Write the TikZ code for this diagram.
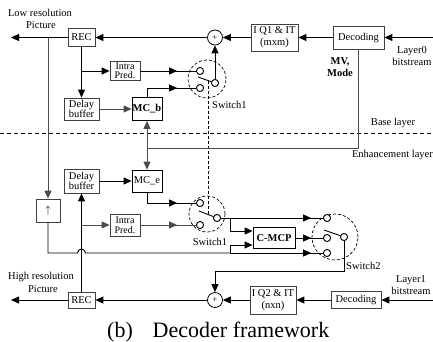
\documentclass[tikz,border=0pt]{standalone}
\usepackage{fontspec}
\setmainfont{Liberation Serif}
\usetikzlibrary{arrows.meta,decorations.markings,calc}
\begin{document}
\begin{tikzpicture}[x=1pt,y=-1pt,
  fs/.style={font=\fontsize{10.5}{11}\selectfont},
  box/.style={draw=black!75, line width=0.8pt, inner sep=0pt, align=center, fs},
  bbox/.style={box, draw=black, font=\fontsize{10.5}{11}\selectfont\bfseries},
  lab/.style={inner sep=0pt, align=center, fs},
  wire/.style={line width=0.9pt, draw=black},
  gwire/.style={line width=1pt, draw=black!70},
  arr/.style={-{Triangle[length=8pt,width=7pt]}},
  arrowat/.style={postaction={decorate}, decoration={markings, mark=at position #1 with {\arrow{Triangle[length=8pt,width=7pt]}}}},
  contact/.style={circle, draw=black, line width=0.8pt, fill=white, inner sep=0pt, minimum size=7pt},
  swring/.style={circle, draw=black, dash pattern=on 3pt off 2pt, line width=0.7pt, inner sep=0pt},
  adder/.style={circle, draw=black, line width=0.8pt, fill=white, inner sep=0pt, minimum size=15pt, font=\fontsize{9}{9}\selectfont},
]
\useasboundingbox (0,0) rectangle (433,341);

% ---------- base layer ----------
\node[box, minimum width=51pt, minimum height=23pt] (dec1) at (358.5,37.5) {Decoding};
\node[box, minimum width=47pt, minimum height=27pt, font=\fontsize{10.5}{12}\selectfont] (iq1) at (274.5,37.5) {I Q1 \& IT\\(mxm)};
\node[adder] (sum1) at (215,37.5) {+};
\node[box, minimum width=27pt, minimum height=18pt] (rec1) at (81.5,37.5) {REC};
\coordinate (in0) at (433,37.5);
\coordinate (outL) at (11,37.5);
\node[lab] (tlow) at (40,13) {Low resolution};
\node[lab] (tlowp) at (41,25) {Picture};
\node[lab, font=\fontsize{10.5}{12}\selectfont] (tl0) at (412,56) {Layer0\\bitstream};
\node[lab, font=\fontsize{10.5}{12}\selectfont\bfseries] (tmv) at (340,67) {MV,\\Mode};

\node[box, minimum width=35pt, minimum height=22pt, font=\fontsize{10.5}{10.5}\selectfont] (dlb1) at (81.5,109) {Delay\\buffer};
\node[bbox, minimum width=30pt, minimum height=23pt] (mcb) at (147,109) {MC\_b};
\node[box, minimum width=30pt, minimum height=19pt, font=\fontsize{10}{9.5}\selectfont] (ip1) at (125,71) {Intra\\Pred.};

\node[swring, minimum size=38pt] (sw1u) at (207,79) {};
\node[contact] (u1t) at (200,71) {};
\node[contact] (u1b) at (200,88) {};
\node[contact] (u1p) at (215,83) {};
\coordinate (u1lev) at (198,77);
\node[lab, anchor=west] (tsw1u) at (212,105) {Switch1};

\coordinate (v48) at (48,37.5);
\coordinate (br1) at (81.5,71);
\coordinate (jn) at (147,148);

\draw[wire, arr] (in0) -- (dec1);
\draw[wire, arr] (dec1) -- (iq1);
\draw[wire, arr] (iq1) -- (sum1);
\draw[wire, arr] (sum1) -- (rec1);
\draw[wire, arr] (rec1) -- (outL);
\draw[wire, arr] (rec1) -- (dlb1);
\draw[wire, arr] (br1) -- (ip1);
\draw[wire, arrowat=-19pt] (ip1) -- (u1t);
\draw[gwire, arr] (dlb1) -- (mcb);
\draw[wire, arrowat=-19pt] (mcb.north) |- (u1b);
\draw[wire, arr] (u1p) -- (sum1);
\draw[wire] (u1p) -- (u1lev);

% ---------- separator ----------
\coordinate (sepL) at (0,133);
\coordinate (sepR) at (433,133);
\draw[line width=0.8pt, dash pattern=on 4pt off 3pt] (sepL) -- (sepR);
\node[lab] (tbase) at (393,123) {Base layer};
\node[lab, anchor=east] (tenh) at (433,155) {Enhancement layer};

% ---------- enhancement layer ----------
\node[box, minimum width=35pt, minimum height=24pt, font=\fontsize{10.5}{10.5}\selectfont] (dlb2) at (81.5,181) {Delay\\buffer};
\node[box, draw=black, minimum width=30pt, minimum height=22pt] (mce) at (147,181) {MC\_e};
\node[box, minimum width=30pt, minimum height=22pt, font=\fontsize{10}{10}\selectfont] (ip2) at (125,225) {Intra\\Pred.};
\node[box, minimum width=24pt, minimum height=23pt] (up) at (48,210.5) {$\uparrow$};

\node[swring, minimum size=36pt] (sw1l) at (207,214) {};
\node[contact] (l1t) at (200,203) {};
\node[contact] (l1b) at (200,225) {};
\node[contact] (l1p) at (217,218) {};
\coordinate (l1lev) at (199,211);
\node[lab] (tsw1l) at (210,242) {Switch1};

\node[bbox, minimum width=42pt, minimum height=21pt] (cmcp) at (274,238) {C-MCP};

\node[swring, minimum size=46pt] (sw2) at (335,237) {};
\node[contact] (s2t) at (327,218) {};
\node[contact] (s2m) at (327,238) {};
\node[contact] (s2b) at (327,253) {};
\node[contact] (s2p) at (344,237) {};
\coordinate (s2lev) at (324,230);
\node[lab, anchor=west] (tsw2) at (346,266) {Switch2};

\node[box, minimum width=50pt, minimum height=17pt] (dec2) at (356,300) {Decoding};
\node[box, minimum width=46pt, minimum height=28pt, font=\fontsize{10.5}{12}\selectfont] (iq2) at (273,300) {I Q2 \& IT\\(nxn)};
\node[adder] (sum2) at (215,300) {+};
\node[box, minimum width=27pt, minimum height=16pt] (rec2) at (81.5,300) {REC};
\coordinate (in1) at (433,300);
\coordinate (outH) at (11,300);
\node[lab] (thigh) at (41,277) {High resolution};
\node[lab] (thighp) at (43,289) {Picture};
\node[lab, font=\fontsize{10.5}{12}\selectfont] (tl1) at (411,285.5) {Layer1\\bitstream};

% coupling of the two Switch1
\coordinate (cu) at (208,80.5);
\coordinate (cl) at (208,214.5);
\draw[line width=0.7pt, dash pattern=on 3pt off 2pt] (cu) -- (cl);

% MV / Mode distribution
\draw[gwire] (dec1.south) |- (jn);
\draw[gwire, arr] (jn) -- (mcb);
\draw[gwire, arr] (jn) -- (mce);

% upsampling path
\draw[gwire, arr] (v48) -- (up);
\coordinate (u253) at (48,253);
\coordinate (hopL) at (77.5,253);
\coordinate (bj) at (230,253);
\coordinate (tj) at (230,218);
\draw[wire] (up) -- (u253) -- (hopL) arc[start angle=180, end angle=0, radius=4pt] -- (bj);
\draw[wire, arrowat=-12pt] (bj) -- (s2b);
\draw[wire, arr] (bj) |- ($(cmcp.west)+(0,7)$);
\draw[wire, arrowat=-12pt] (l1p) -- (s2t);
\draw[wire, arr] (tj) |- ($(cmcp.west)+(0,-7)$);
\draw[wire, arrowat=-12pt] (cmcp) -- (s2m);

% enhancement layer inner loop
\coordinate (br2) at (81.5,225);
\draw[wire, arr] (rec2) -- (dlb2);
\draw[gwire, arr] (br2) -- (ip2);
\draw[gwire, arrowat=-19pt] (ip2) -- (l1b);
\draw[wire, arr] (dlb2) -- (mce);
\draw[wire, arrowat=-19pt] (mce.south) |- (l1t);
\draw[wire] (l1p) -- (l1lev);
\draw[wire] (s2p) -- (s2lev);

% switch2 output to adder
\coordinate (s2o) at (344,271);
\draw[wire, arr] (s2p) -- (s2o) -| (sum2);

% bottom row
\draw[wire, arr] (in1) -- (dec2);
\draw[wire, arr] (dec2) -- (iq2);
\draw[wire, arr] (iq2) -- (sum2);
\draw[wire, arr] (sum2) -- (rec2);
\draw[wire, arr] (rec2) -- (outH);

% redraw contacts on top of wires
\foreach \c in {u1t,u1b,u1p,l1t,l1b,l1p,s2t,s2m,s2b,s2p}
  \node[contact] at (\c) {};

% caption
\node[anchor=base, inner sep=0pt, font=\fontsize{22}{22}\selectfont] (capb) at (120,337) {(b)};
\node[anchor=base, inner sep=0pt, font=\fontsize{22}{22}\selectfont] (capt) at (241,337) {Decoder framework};
\end{tikzpicture}
\end{document}
